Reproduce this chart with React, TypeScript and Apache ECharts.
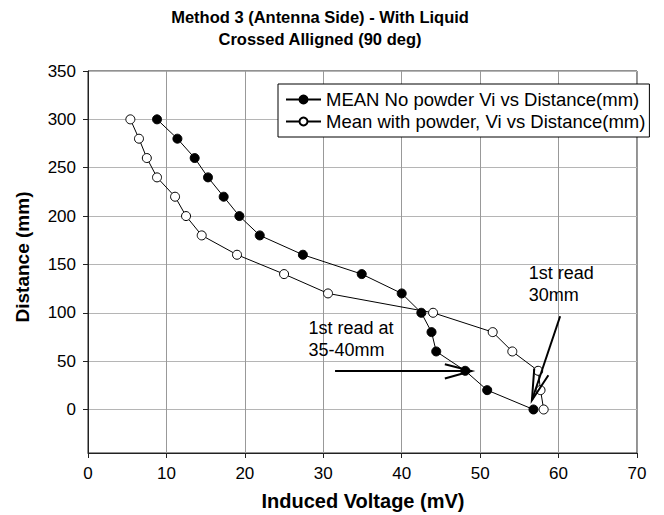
import React, { useEffect, useRef } from "react";
import * as echarts from "echarts";

const distances = [300, 280, 260, 240, 220, 200, 180, 160, 140, 120, 100, 80, 60, 40, 20, 0];
const noPowderVoltage = [8.8, 11.4, 13.6, 15.3, 17.3, 19.3, 21.9, 27.4, 34.9, 40.0, 42.5, 43.8, 44.4, 48.1, 50.9, 56.8];
const powderVoltage = [5.4, 6.5, 7.5, 8.8, 11.1, 12.5, 14.5, 19.0, 25.0, 30.6, 44.0, 51.6, 54.1, 57.4, 57.7, 58.1];
const yTickValues = [0, 50, 100, 150, 200, 250, 300, 350];
const seriesNames = ["MEAN No powder Vi vs Distance(mm)", "Mean with powder, Vi vs Distance(mm)"];

// annotation arrows in data coordinates: [tail, tip, barb1, barb2]
const arrow1 = [[31.5, 39.8], [48.9, 39.8], [45.5, 46.8], [45.5, 32.0]];
const arrow2 = [[60.2, 96.4], [56.6, 9.6], [56.9, 42.4], [58.7, 35.4]];

const FONT = "Liberation Sans, Arial, sans-serif";

export default function App() {
  const ref = useRef<HTMLDivElement>(null);
  useEffect(() => {
    const chart = echarts.init(ref.current!, null, { renderer: "svg" });
    const mk = (v: number[]) => v.map((x, i) => [x, distances[i]]);
    chart.setOption({
      animation: false,
      backgroundColor: "#fff",
      textStyle: { fontFamily: FONT },
      grid: {
        left: 88,
        right: 27,
        top: 71,
        bottom: 62,
        show: true,
        borderColor: "#222",
        borderWidth: 1,
        backgroundColor: "transparent",
      },
      legend: {
        orient: "vertical",
        left: 278,
        top: 84,
        backgroundColor: "#fff",
        borderColor: "#000",
        borderWidth: 1,
        borderRadius: 0,
        padding: [6, 4, 6, 7],
        itemWidth: 35,
        itemHeight: 10,
        itemGap: 3,
        textStyle: { fontSize: 18.5, color: "#000", fontFamily: FONT },
        data: seriesNames,
      },
      xAxis: {
        type: "value",
        min: 0,
        max: 70,
        interval: 10,
        axisLine: { show: true, onZero: false, lineStyle: { color: "#222", width: 1 } },
        axisTick: { show: true, length: 5, lineStyle: { color: "#222" } },
        axisLabel: { fontSize: 17, color: "#000", margin: 12, fontFamily: FONT },
        splitLine: { show: true, lineStyle: { color: "#999", width: 1 } },
      },
      yAxis: {
        type: "value",
        min: -45,
        max: 350,
        axisLine: { show: true, onZero: false, lineStyle: { color: "#222", width: 1 } },
        axisTick: { show: true, length: 5, lineStyle: { color: "#222" }, customValues: yTickValues },
        axisLabel: { fontSize: 17, color: "#000", margin: 12, fontFamily: FONT, customValues: yTickValues },
        splitLine: { show: true, lineStyle: { color: "#b5b5b5", width: 1 } },
      },
      series: [
        {
          name: seriesNames[0],
          type: "line",
          data: mk(noPowderVoltage),
          symbol: "circle",
          symbolSize: 9,
          lineStyle: { color: "#000", width: 1 },
          itemStyle: { color: "#000", borderColor: "#000", borderWidth: 1 },
          z: 3,
        },
        {
          name: seriesNames[1],
          type: "line",
          data: mk(powderVoltage),
          symbol: "circle",
          symbolSize: 9,
          lineStyle: { color: "#000", width: 1 },
          itemStyle: { color: "#fff", borderColor: "#000", borderWidth: 1 },
          z: 3,
        },
      ],
    });

    const px = (p: number[]) => chart.convertToPixel({ gridIndex: 0 }, p) as number[];
    const arrowEls = (a: number[][]) => {
      const [t, h, b1, b2] = a.map(px);
      return [
        { type: "line", shape: { x1: t[0], y1: t[1], x2: h[0], y2: h[1] }, style: { stroke: "#000", lineWidth: 2 }, z: 10 },
        { type: "polyline", shape: { points: [b1, h, b2] }, style: { stroke: "#000", lineWidth: 2, fill: "none" }, z: 10 },
      ];
    };
    const t1 = px([28.1, 0]);
    const t2 = px([56.2, 0]);
    const titleStyle = { fontSize: 16.5, fontWeight: "bold", fontFamily: FONT, fill: "#000", textAlign: "center", textVerticalAlign: "middle" };
    chart.setOption({
      graphic: [
        { type: "text", x: 320, y: 17, style: { ...titleStyle, text: "Method 3 (Antenna Side) - With Liquid" } },
        { type: "text", x: 320, y: 39, style: { ...titleStyle, text: "Crossed Alligned (90 deg)" } },
        {
          type: "text",
          x: 363,
          y: 501,
          style: { ...titleStyle, fontSize: 20, text: "Induced Voltage (mV)" },
        },
        {
          type: "text",
          x: 22,
          y: 257,
          rotation: Math.PI / 2,
          style: { ...titleStyle, fontSize: 19, text: "Distance (mm)" },
        },
        {
          type: "text",
          x: t1[0],
          y: 339,
          style: { text: "1st read at\n35-40mm", fontSize: 18, lineHeight: 22, fontFamily: FONT, fill: "#000", textAlign: "left", textVerticalAlign: "middle" },
          z: 9,
        },
        {
          type: "text",
          x: t2[0],
          y: 284,
          style: { text: "1st read\n30mm", fontSize: 18, lineHeight: 22, fontFamily: FONT, fill: "#000", textAlign: "left", textVerticalAlign: "middle" },
          z: 9,
        },
        ...arrowEls(arrow1),
        ...arrowEls(arrow2),
      ],
    });
    return () => chart.dispose();
  }, []);
  return <div ref={ref} style={{ position: "fixed", left: 0, top: 0, width: 664, height: 515 }} />;
}
